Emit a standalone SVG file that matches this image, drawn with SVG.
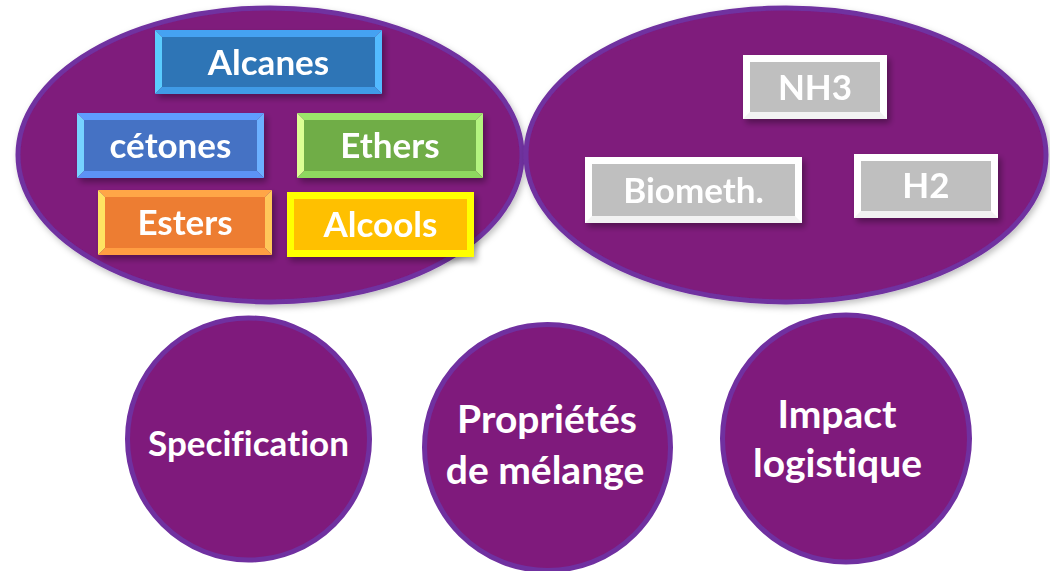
<svg xmlns="http://www.w3.org/2000/svg" width="1050" height="571" viewBox="0 0 1050 571">
<defs>
<filter id="sh" x="-20%" y="-20%" width="150%" height="160%">
<feDropShadow dx="3" dy="4" stdDeviation="3" flood-color="#000" flood-opacity="0.35"/>
</filter>
<filter id="esh" x="-5%" y="-5%" width="115%" height="115%">
<feDropShadow dx="2" dy="3" stdDeviation="3" flood-color="#000" flood-opacity="0.25"/>
</filter>
</defs>
<style>
.big{fill:#7F1A7C;stroke:#7030A0;stroke-width:5}
.t{font-family:Lato,"Open Sans",sans-serif;font-weight:700;font-size:35px;fill:#fff;text-anchor:middle;font-variant-ligatures:none}
.c{font-size:39px}
.gray{fill:#BFBFBF}
.white{fill:#fff}
.wb{fill:#F2F2F2}
</style>
<rect width="1050" height="571" fill="#fff"/>
<g id="group-liquides">
<ellipse class="big" cx="270" cy="155" rx="252" ry="147" filter="url(#esh)"/>
</g>
<g id="group-gaz">
<ellipse class="big" cx="786" cy="155" rx="260" ry="147" filter="url(#esh)"/>
</g>
<g id="alcanes" filter="url(#sh)">
<polygon points="155,30 382,30 375,37 162,37" fill="#45A2F2"/>
<polygon points="155,30 162,37 162,87 155,94" fill="#5ACCFF"/>
<polygon points="382,30 382,94 375,87 375,37" fill="#52BBFF"/>
<polygon points="155,94 162,87 375,87 382,94" fill="#419BE6"/>
<rect x="162" y="37" width="213" height="50" fill="#2E75B6"/>
<text class="t" x="268.5" y="75">Alcanes</text>
</g>
<g id="cetones" filter="url(#sh)">
<polygon points="77,113 264,113 257,120 84,120" fill="#5E9CFF"/>
<polygon points="77,113 84,120 84,171 77,178" fill="#76D3FF"/>
<polygon points="264,113 264,178 257,171 257,120" fill="#6CB0FF"/>
<polygon points="77,178 84,171 257,171 264,178" fill="#5B93F5"/>
<rect x="84" y="120" width="173" height="51" fill="#4472C4"/>
<text class="t" x="170.5" y="158">cétones</text>
</g>
<g id="ethers" filter="url(#sh)">
<polygon points="297,113 483,113 476,120 304,120" fill="#9BE66A"/>
<polygon points="297,113 304,120 304,171 297,178" fill="#DCFF94"/>
<polygon points="483,113 483,178 476,171 476,120" fill="#B3F47F"/>
<polygon points="297,178 304,171 476,171 483,178" fill="#8ED95F"/>
<rect x="304" y="120" width="172" height="51" fill="#70AD47"/>
<text class="t" x="390" y="158">Ethers</text>
</g>
<g id="esters" filter="url(#sh)">
<polygon points="98,190 272,190 265,197 105,197" fill="#FFA646"/>
<polygon points="98,190 105,197 105,248 98,255" fill="#FFE362"/>
<polygon points="272,190 272,255 265,248 265,197" fill="#FFC75A"/>
<polygon points="98,255 105,248 265,248 272,255" fill="#FF9E42"/>
<rect x="105" y="197" width="160" height="51" fill="#ED7D31"/>
<text class="t" x="185" y="235">Esters</text>
</g>
<g id="alcools" filter="url(#sh)">
<rect x="287" y="192" width="187" height="65" fill="#FFFF00"/>
<rect x="294" y="199" width="173" height="51" fill="#FFC000"/>
<text class="t" x="380.5" y="237">Alcools</text>
</g>
<g id="nh3" filter="url(#sh)">
<rect x="743" y="55" width="144" height="64" class="white"/>
<polygon points="743,119 750,112 880,112 887,119" class="wb"/>
<rect x="750" y="62" width="130" height="50" class="gray"/>
<text class="t" x="815" y="100">NH3</text>
</g>
<g id="biometh" filter="url(#sh)">
<rect x="585" y="157" width="217" height="66" class="white"/>
<polygon points="585,223 592,216 795,216 802,223" class="wb"/>
<rect x="592" y="164" width="203" height="52" class="gray"/>
<text class="t" x="693.5" y="203">Biometh.</text>
</g>
<g id="h2" filter="url(#sh)">
<rect x="854" y="154" width="144" height="64" class="white"/>
<polygon points="854,218 861,211 991,211 998,218" class="wb"/>
<rect x="861" y="161" width="130" height="50" class="gray"/>
<text class="t" x="926" y="198">H2</text>
</g>
<g id="specification">
<circle class="big" cx="248.5" cy="439" r="121"/>
<text class="t" x="248.5" y="456">Specification</text>
</g>
<g id="proprietes">
<circle class="big" cx="547.5" cy="447.5" r="123"/>
<text class="t c" x="547" y="433">Propriétés</text>
<text class="t c" x="545" y="484">de mélange</text>
</g>
<g id="impact">
<circle class="big" cx="846" cy="438.5" r="123.5"/>
<text class="t c" x="837" y="428">Impact</text>
<text class="t c" x="837.5" y="477">logistique</text>
</g>
<g id="connectors"/>
</svg>
